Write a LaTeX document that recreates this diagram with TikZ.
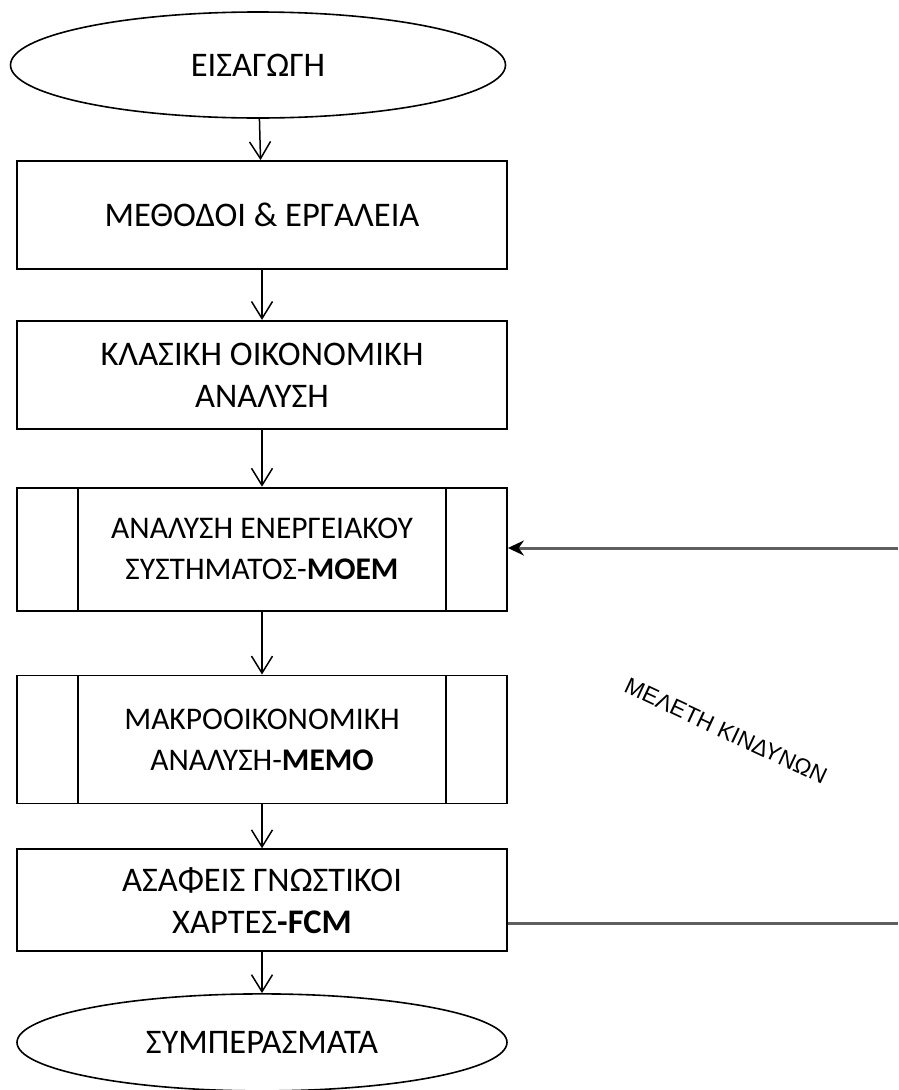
\documentclass[tikz,border=0pt]{standalone}
\usepackage{fontspec}
\setmainfont{Carlito}
\newfontfamily\labelfont{Liberation Sans}
\usepackage{tikz}
\usetikzlibrary{shapes.geometric, arrows.meta, positioning, calc}
\definecolor{fbgray}{RGB}{95, 95, 95}

\begin{document}
\begin{tikzpicture}[x=1pt, y=1pt,
    term/.style={ellipse, draw, line width=1.6pt, minimum width=495pt,
                 minimum height=106pt, inner sep=0pt,
                 font=\fontsize{34.5}{40}\selectfont},
    stage/.style={rectangle, draw, line width=1.8pt, minimum width=490pt,
                  align=center, inner sep=0pt,
                  font=\fontsize{34.5}{42}\selectfont},
    subproc/.style={stage, font=\fontsize{31.5}{41}\selectfont,
                    path picture={
                      \draw[line width=1.8pt] ([xshift=61pt]path picture bounding box.north west)
                        -- ([xshift=61pt]path picture bounding box.south west);
                      \draw[line width=1.8pt] ([xshift=-61pt]path picture bounding box.north east)
                        -- ([xshift=-61pt]path picture bounding box.south east);}},
    arr/.style={-{Straight Barb[length=17pt, width=21pt]}, line width=1.5pt},
    fb/.style={line width=3pt, fbgray},
]
\useasboundingbox (0,0) rectangle (898,-1090);

\node[term] (intro) at (258,-65) {ΕΙΣΑΓΩΓΗ};
\node[stage, minimum height=108pt] (methods) at (262,-215) {ΜΕΘΟΔΟΙ \& ΕΡΓΑΛΕΙΑ};
\node[stage, minimum height=108pt, below=50pt of methods] (classic) {ΚΛΑΣΙΚΗ ΟΙΚΟΝΟΜΙΚΗ\\ΑΝΑΛΥΣΗ};
\node[subproc, minimum height=123pt, below=57pt of classic] (energy) {ΑΝΑΛΥΣΗ ΕΝΕΡΓΕΙΑΚΟΥ\\ΣΥΣΤΗΜΑΤΟΣ-\textbf{ΜΟΕΜ}};
\node[subproc, minimum height=128pt, below=63pt of energy] (macro) {ΜΑΚΡΟΟΙΚΟΝΟΜΙΚΗ\\ΑΝΑΛΥΣΗ-\textbf{ΜΕΜΟ}};
\node[stage, minimum height=102pt, below=44pt of macro] (fcm) {ΑΣΑΦΕΙΣ ΓΝΩΣΤΙΚΟΙ\\ΧΑΡΤΕΣ\textbf{-FCM}};
\node[term, minimum width=490pt, minimum height=97pt, below=41pt of fcm] (concl) {ΣΥΜΠΕΡΑΣΜΑΤΑ};

\draw[arr] (intro) -- (methods);
\draw[arr] (methods) -- (classic);
\draw[arr] (classic) -- (energy);
\draw[arr] (energy) -- (macro);
\draw[arr] (macro) -- (fcm);
\draw[arr] (fcm) -- (concl);

% risk study feedback
\coordinate (riskin) at (898,-548);
\coordinate (riskout) at (898,-923);
\draw[fb] (fcm.east |- riskout) -- (riskout);
\draw[fb, -{Stealth[length=16pt, width=15pt, color=black]}] (riskin) -- (riskin -| energy.east);
\node[rotate=-25, font=\labelfont\fontsize{23}{26}\selectfont] (risk) at (726,-731) {ΜΕΛΕΤΗ ΚΙΝΔΥΝΩΝ};

\end{tikzpicture}
\end{document}
